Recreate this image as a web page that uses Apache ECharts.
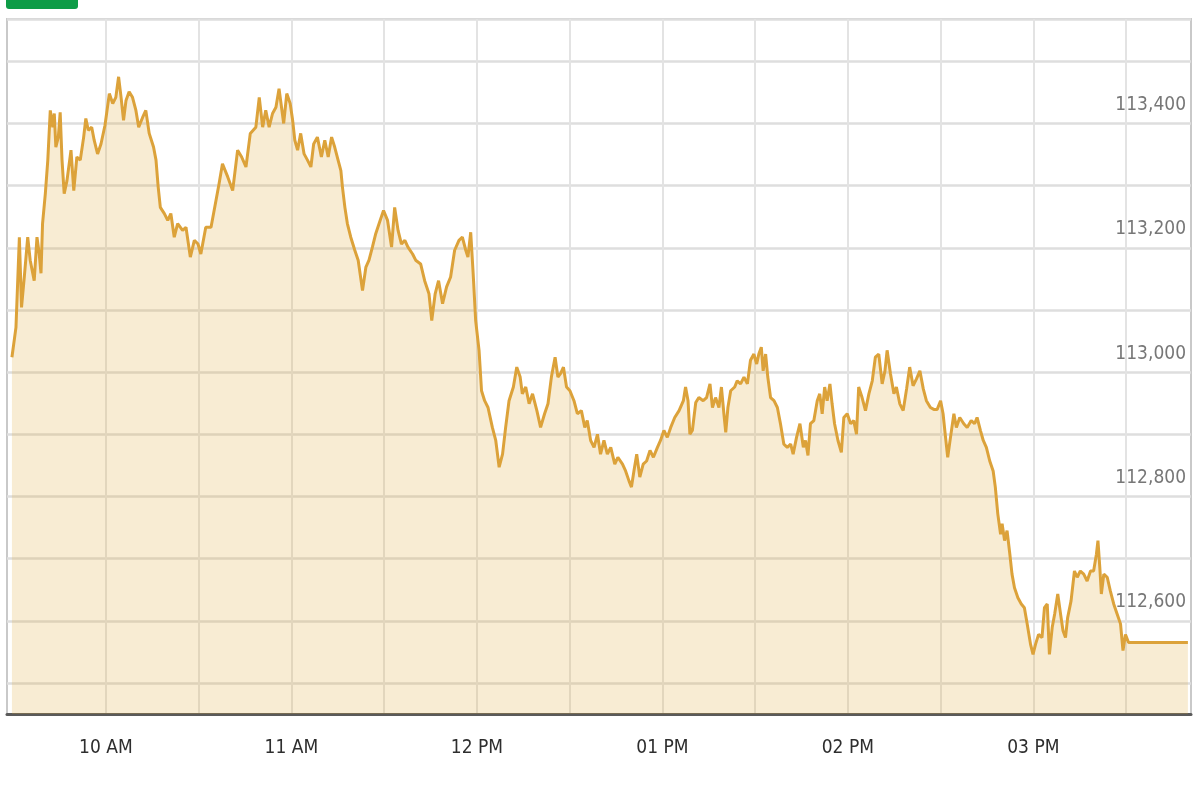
<!DOCTYPE html>
<html><head><meta charset="utf-8">
<script src="https://cdn.jsdelivr.net/npm/echarts@6/dist/echarts.min.js"></script>
<style>html,body{margin:0;padding:0;background:#fff}#c{width:1200px;height:800px}</style>
</head><body><div id="c"></div>
<script>
// minutes since midnight
const times = [
569.6,570.9,572.0,572.7,573.6,574.7,575.5,576.8,577.7,578.4,
579.0,579.5,580.4,581.2,582.0,582.8,583.3,583.8,584.6,585.2,
585.8,586.5,587.4,588.7,589.6,590.6,591.7,592.8,593.5,594.3,
595.4,596.2,597.3,598.4,599.7,601.1,602.2,603.2,604.1,604.9,
605.7,606.5,607.5,608.6,609.7,610.6,611.9,612.9,614.0,615.4,
616.2,616.9,617.6,618.9,620.0,621.0,622.1,623.2,624.8,625.9,
627.3,628.6,629.8,630.7,632.3,634.0,635.6,636.6,637.7,639.4,
641.0,642.6,643.9,645.3,646.7,648.5,649.6,650.7,651.7,652.8,
653.9,655.0,656.0,656.8,657.5,658.5,659.6,660.4,661.1,662.0,
663.0,664.1,665.2,666.3,667.2,668.4,669.7,670.8,671.9,673.0,
674.0,675.1,676.0,676.5,677.3,678.1,679.2,680.5,681.6,683.0,
684.1,685.1,686.2,687.3,688.7,689.8,691.1,692.4,693.4,694.5,
695.6,696.7,697.7,699.2,700.2,701.8,703.1,704.5,705.4,706.5,
707.6,708.9,710.2,711.5,712.8,714.2,715.3,716.4,717.1,718.0,
718.8,719.6,720.7,721.5,722.5,723.6,725.0,726.1,727.2,728.3,
729.3,730.4,731.8,732.9,734.0,734.7,735.8,736.9,738.0,739.4,
740.6,741.9,743.0,744.1,745.3,746.2,747.1,748.0,749.0,750.1,
751.4,752.5,753.8,754.9,755.7,756.8,757.9,759.0,760.0,761.1,
762.2,763.3,764.6,765.6,767.1,768.1,769.2,770.0,770.8,771.7,
772.7,773.8,774.9,776.0,777.1,778.4,779.4,780.5,781.6,782.7,
784.0,785.4,786.8,787.5,788.3,788.9,789.7,790.8,791.8,793.2,
794.3,795.4,796.2,797.2,798.3,799.1,799.9,800.5,801.2,802.1,
803.4,804.2,805.3,806.4,807.5,808.5,809.6,810.5,811.2,812.0,
812.6,813.4,814.1,815.0,816.1,817.2,818.2,819.3,820.4,821.5,
822.3,823.4,824.5,825.6,826.3,827.1,827.9,829.0,830.1,830.9,
831.7,832.5,833.3,834.2,834.9,835.7,836.8,837.9,838.7,839.8,
840.9,841.9,842.8,843.5,844.6,845.7,846.8,847.9,848.9,850.0,
851.1,852.0,852.7,853.8,854.9,855.7,856.8,857.9,859.0,860.0,
861.1,862.2,863.3,864.4,865.4,866.7,867.8,868.9,870.0,870.8,
871.6,872.3,873.2,874.3,875.1,876.2,877.5,878.6,879.9,881.0,
881.8,882.9,883.8,884.8,885.9,887.0,887.7,888.5,889.4,889.9,
890.7,891.5,892.4,893.1,893.9,895.0,896.1,897.1,898.0,899.1,
899.9,900.7,901.7,902.8,903.6,904.5,905.2,906.1,906.9,907.9,
908.8,909.6,910.4,911.1,912.2,913.3,914.2,915.2,916.3,917.4,
918.5,919.5,920.4,920.9,921.5,922.0,922.8,923.9,924.9,926.0,
927.1,928.2,929.0,929.8,930.8,950.0
];
const prices = [
113024,113072,113217,113104,113153,113217,113180,113147,113217,113191,
113159,113239,113287,113341,113421,113394,113416,113362,113378,113418,
113341,113287,113308,113357,113292,113346,113341,113378,113408,113389,
113394,113373,113351,113367,113397,113448,113432,113442,113475,113442,
113405,113437,113451,113442,113421,113394,113410,113421,113384,113362,
113341,113298,113265,113255,113244,113255,113217,113239,113228,113233,
113185,113212,113206,113190,113233,113233,113276,113303,113335,113314,
113292,113357,113346,113330,113384,113394,113442,113394,113421,113394,
113416,113426,113456,113426,113400,113448,113432,113405,113373,113357,
113384,113351,113341,113330,113367,113378,113346,113373,113346,113378,
113362,113341,113324,113298,113265,113239,113217,113196,113180,113131,
113169,113180,113201,113223,113244,113260,113244,113201,113265,113228,
113206,113212,113201,113190,113180,113174,113147,113126,113083,113126,
113147,113110,113137,113153,113196,113212,113217,113196,113185,113225,
113158,113083,113035,112970,112954,112943,112911,112890,112847,112868,
112911,112954,112976,113008,112992,112965,112976,112949,112965,112938,
112911,112933,112949,112992,113024,112992,112998,113008,112976,112970,
112954,112933,112938,112911,112922,112890,112879,112900,112868,112890,
112868,112879,112852,112863,112852,112841,112825,112815,112841,112868,
112831,112852,112857,112874,112863,112879,112890,112906,112895,112911,
112927,112938,112954,112976,112954,112900,112906,112951,112959,112954,
112959,112981,112943,112959,112943,112976,112933,112903,112943,112970,
112976,112986,112981,112992,112981,113019,113029,113013,113029,113040,
113002,113029,112992,112959,112954,112943,112917,112884,112879,112884,
112868,112895,112917,112879,112890,112866,112917,112922,112954,112965,
112933,112976,112954,112981,112949,112917,112890,112871,112927,112933,
112917,112922,112900,112976,112959,112938,112965,112986,113024,113029,
112981,113002,113035,112997,112965,112976,112949,112938,112973,113008,
112978,112989,113002,112973,112954,112943,112940,112940,112954,112933,
112895,112863,112895,112933,112911,112927,112917,112911,112922,112917,
112927,112906,112890,112879,112857,112841,112815,112772,112739,112756,
112729,112745,112707,112675,112653,112637,112627,112621,112595,112562,
112546,112562,112578,112573,112621,112627,112546,112589,112611,112643,
112611,112584,112573,112605,112632,112680,112670,112680,112675,112664,
112680,112680,112707,112729,112686,112643,112675,112670,112648,112627,
112611,112595,112552,112578,112565,112565
];
const hourTicks = [600, 660, 720, 780, 840, 900];
const hourLabels = ['10 AM', '11 AM', '12 PM', '01 PM', '02 PM', '03 PM'];
const priceTicks = [112600, 112800, 113000, 113200, 113400];

const X_MIN = 568, X_MAX = 951, X_STEP = 2;
const labelFont = '"Liberation Sans Narrow", "DejaVu Sans Condensed", "Roboto Condensed", "Liberation Sans", sans-serif';
// one colour per 2-minute tick: grey on half hours after the open, transparent otherwise
const xLineColors = Array.from({length: Math.floor((X_MAX - X_MIN) / X_STEP) + 2}, (_, i) => {
  const v = X_MIN + i * X_STEP;
  return (v % 30 === 0 && v > 570) ? '#e3e3e3' : 'rgba(0,0,0,0)';
});
const yLineColors = ['rgba(0,0,0,0)', '#dedede'];

const chart = echarts.init(document.getElementById('c'), null, {renderer: 'canvas'});
chart.setOption({
  animation: false,
  backgroundColor: '#ffffff',
  grid: {left: 7, right: 9, top: 19, bottom: 86, show: true, borderColor: '#c9c9c9', borderWidth: 2, backgroundColor: '#ffffff'},
  graphic: [{type: 'rect', shape: {x: 6, y: -4, width: 72, height: 13, r: 3}, style: {fill: '#0e9c47'}}],
  xAxis: {
    type: 'value', min: X_MIN, max: X_MAX, interval: X_STEP,
    axisLine: {show: true, lineStyle: {color: '#5a5a5a', width: 3}},
    axisTick: {show: false},
    splitLine: {show: true, lineStyle: {color: xLineColors, width: 2}},
    axisLabel: {
      margin: 25, fontSize: 19, color: '#2e2e2e', fontFamily: labelFont,
      formatter: v => { const i = hourTicks.indexOf(v); return i >= 0 ? hourLabels[i] : ''; }
    }
  },
  yAxis: {
    type: 'value', position: 'right', min: 112450, max: 113568, interval: 50,
    axisLine: {show: false}, axisTick: {show: false},
    splitLine: {show: true, lineStyle: {color: yLineColors, width: 2.5}},
    axisLabel: {
      inside: true, margin: 5, fontSize: 19, color: '#777777', fontFamily: labelFont,
      verticalAlign: 'bottom', padding: [0, 0, 9, 0],
      formatter: v => priceTicks.indexOf(v) >= 0 ? v.toLocaleString('en-US') : ''
    }
  },
  series: [{
    type: 'line', showSymbol: false, symbol: 'none',
    data: times.map((t, i) => [t, prices[i]]),
    lineStyle: {color: '#dca23a', width: 3},
    areaStyle: {color: 'rgba(222,172,60,0.32)'}
  }]
});
</script></body></html>
